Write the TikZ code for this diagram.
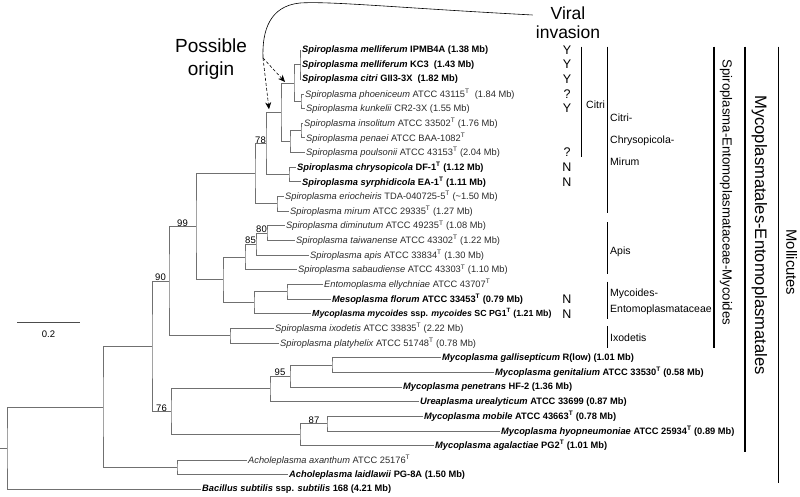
\documentclass[tikz,border=0pt]{standalone}
\usepackage{fontspec}
\setmainfont{Liberation Sans}
\usetikzlibrary{arrows.meta}
\definecolor{branchgray}{HTML}{707070}
\definecolor{labelgray}{HTML}{2A2A2A}
\newcommand{\tst}{\textsuperscript{T}}
\tikzset{
  branch/.style={draw=branchgray, line width=0.8pt},
  leaf/.style={anchor=west, inner xsep=1pt, inner ysep=0pt, font=\fontsize{9.3}{10}\selectfont, text=labelgray},
  seq/.style={leaf, font=\fontsize{9.3}{10}\selectfont\bfseries, text=black},
  boot/.style={anchor=south, inner sep=0pt, font=\fontsize{9.5}{10}\selectfont},
  yn/.style={inner sep=0pt, font=\fontsize{12.5}{13}\selectfont},
  grp/.style={anchor=west, inner sep=0pt, align=left, font=\fontsize{10.5}{22}\selectfont},
  cladebar/.style={line width=1.5pt},
  bigtext/.style={rotate=-90, inner sep=0pt},
  guessarrow/.style={line width=0.6pt, dash pattern=on 3pt off 2pt, -{Stealth[length=7pt,width=6pt]}},
}

\begin{document}
\begin{tikzpicture}[x=1pt, y=-1pt]
    \useasboundingbox (0,0) rectangle (800,497);

    % leaves
    \node[seq]  (L1)  at (301,50.00)  {\textit{Spiroplasma melliferum} IPMB4A (1.38 Mb)};
    \node[seq]  (L2)  at (301,64.65)  {\textit{Spiroplasma melliferum} KC3\ \ (1.43 Mb)};
    \node[seq]  (L3)  at (301,79.30)  {\textit{Spiroplasma citri} GII3-3X\ \ (1.82 Mb)};
    \node[leaf] (L4)  at (304,93.95)  {\textit{Spiroplasma phoeniceum} ATCC 43115\tst\ \ (1.84 Mb)};
    \node[leaf] (L5)  at (305,108.60) {\textit{Spiroplasma kunkelii} CR2-3X (1.55 Mb)};
    \node[leaf] (L6)  at (303,123.25) {\textit{Spiroplasma insolitum} ATCC 33502\tst\ (1.76 Mb)};
    \node[leaf] (L7)  at (305,137.90) {\textit{Spiroplasma penaei} ATCC BAA-1082\tst};
    \node[leaf] (L8)  at (305,152.55) {\textit{Spiroplasma poulsonii} ATCC 43153\tst\ (2.04 Mb)};
    \node[seq]  (L9)  at (296,167.20) {\textit{Spiroplasma chrysopicola} DF-1\tst\ (1.12 Mb)};
    \node[seq]  (L10) at (301,181.85) {\textit{Spiroplasma syrphidicola} EA-1\tst\ (1.11 Mb)};
    \node[leaf] (L11) at (284,196.50) {\textit{Spiroplasma eriocheiris} TDA-040725-5\tst\ (\textasciitilde1.50 Mb)};
    \node[leaf] (L12) at (289,211.15) {\textit{Spiroplasma mirum} ATCC 29335\tst\ (1.27 Mb)};
    \node[leaf] (L13) at (285,225.80) {\textit{Spiroplasma diminutum} ATCC 49235\tst\ (1.08 Mb)};
    \node[leaf] (L14) at (295,240.45) {\textit{Spiroplasma taiwanense} ATCC 43302\tst\ (1.22 Mb)};
    \node[leaf] (L15) at (309,255.10) {\textit{Spiroplasma apis} ATCC 33834\tst\ (1.30 Mb)};
    \node[leaf] (L16) at (297,269.75) {\textit{Spiroplasma sabaudiense} ATCC 43303\tst\ (1.10 Mb)};
    \node[leaf] (L17) at (323,284.40) {\textit{Entomoplasma ellychniae} ATCC 43707\tst};
    \node[seq]  (L18) at (331,299.05) {\textit{Mesoplasma florum} ATCC 33453\tst\ (0.79 Mb)};
    \node[seq, font=\fontsize{8.8}{10}\selectfont\bfseries] (L19) at (311,313.70) {\textit{Mycoplasma mycoides} ssp. \textit{mycoides} SC PG1\tst\ (1.21 Mb)};
    \node[leaf] (L20) at (274,328.35) {\textit{Spiroplasma ixodetis} ATCC 33835\tst\ (2.22 Mb)};
    \node[leaf] (L21) at (279,343.00) {\textit{Spiroplasma platyhelix} ATCC 51748\tst\ (0.78 Mb)};
    \node[seq]  (L22) at (441,357.65) {\textit{Mycoplasma gallisepticum} R(low) (1.01 Mb)};
    \node[seq]  (L23) at (494,372.30) {\textit{Mycoplasma genitalium} ATCC 33530\tst\ (0.58 Mb)};
    \node[seq]  (L24) at (402,386.95) {\textit{Mycoplasma penetrans} HF-2 (1.36 Mb)};
    \node[seq]  (L25) at (419,401.60) {\textit{Ureaplasma urealyticum} ATCC 33699 (0.87 Mb)};
    \node[seq]  (L26) at (423,416.25) {\textit{Mycoplasma mobile} ATCC 43663\tst\ (0.78 Mb)};
    \node[seq]  (L27) at (500,430.90) {\textit{Mycoplasma hyopneumoniae} ATCC 25934\tst\ (0.89 Mb)};
    \node[seq]  (L28) at (434,445.55) {\textit{Mycoplasma agalactiae} PG2\tst\ (1.01 Mb)};
    \node[leaf] (L29) at (247,460.20) {\textit{Acholeplasma axanthum} ATCC 25176\tst};
    \node[seq]  (L30) at (288,474.85) {\textit{Acholeplasma laidlawii} PG-8A (1.50 Mb)};
    \node[seq]  (L31) at (201,489.50) {\textit{Bacillus subtilis} ssp. \textit{subtilis} 168 (4.21 Mb)};

    % inner nodes of the tree
    \coordinate (nA)    at (300,64.65);
    \coordinate (nB)    at (301,101.28);
    \coordinate (nC)    at (294,82.96);
    \coordinate (nD)    at (301,130.58);
    \coordinate (nE)    at (290,141.56);
    \coordinate (nF)    at (281,112.26);
    \coordinate (nG)    at (289,174.53);
    \coordinate (nCC)   at (266,143.39);
    \coordinate (nH)    at (277,203.83);
    \coordinate (nCCM)  at (255,173.61);
    \coordinate (n80)   at (267,233.13);
    \coordinate (nI)    at (256,244.11);
    \coordinate (n85)   at (245,256.93);
    \coordinate (nJ)    at (287,291.73);
    \coordinate (nK)    at (254,302.71);
    \coordinate (nL)    at (223,279.82);
    \coordinate (n99)   at (196,226.72);
    \coordinate (nIxo)  at (230,335.68);
    \coordinate (n90)   at (169,281.20);
    \coordinate (nM)    at (332,364.98);
    \coordinate (n95)   at (290,375.96);
    \coordinate (nN)    at (270,388.78);
    \coordinate (n87)   at (327,423.58);
    \coordinate (nO)    at (300,434.56);
    \coordinate (n76)   at (171,411.67);
    \coordinate (nMoll) at (152,346.43);
    \coordinate (nAch)  at (177,467.53);
    \coordinate (nIn)   at (103,406.98);
    \coordinate (nRoot) at (7,448.24);

    % branches
    \draw[branch] (L1) -| (nA) |- (L3);
    \draw[branch] (nA) |- (L2);
    \draw[branch] (L4) -| (nB) |- (L5);
    \draw[branch] (nA) -| (nC) |- (nB);
    \draw[branch] (L6) -| (nD) |- (L7);
    \draw[branch] (nD) -| (nE) |- (L8);
    \draw[branch] (nC) -| (nF) |- (nE);
    \draw[branch] (L9) -| (nG) |- (L10);
    \draw[branch] (nF) -| (nCC) |- (nG);
    \draw[branch] (L11) -| (nH) |- (L12);
    \draw[branch] (nCC) -| (nCCM) |- (nH);
    \draw[branch] (L13) -| (n80) |- (L14);
    \draw[branch] (n80) -| (nI) |- (L15);
    \draw[branch] (nI) -| (n85) |- (L16);
    \draw[branch] (L17) -| (nJ) |- (L18);
    \draw[branch] (nJ) -| (nK) |- (L19);
    \draw[branch] (n85) -| (nL) |- (nK);
    \draw[branch] (nCCM) -| (n99) |- (nL);
    \draw[branch] (L20) -| (nIxo) |- (L21);
    \draw[branch] (n99) -| (n90) |- (nIxo);
    \draw[branch] (L22) -| (nM) |- (L23);
    \draw[branch] (nM) -| (n95) |- (L24);
    \draw[branch] (n95) -| (nN) |- (L25);
    \draw[branch] (L26) -| (n87) |- (L27);
    \draw[branch] (n87) -| (nO) |- (L28);
    \draw[branch] (nN) -| (n76) |- (nO);
    \draw[branch] (n90) -| (nMoll) |- (n76);
    \draw[branch] (L29) -| (nAch) |- (L30);
    \draw[branch] (nMoll) -| (nIn) |- (nAch);
    \draw[branch] (nIn) -| (nRoot) |- (L31);
    \draw[branch] (nRoot) -- ++(-7,0);

    % bootstrap values
    \node[boot] (b78) at (260.5,143.39) {78};
    \node[boot] (b99) at (182.5,226.72) {99};
    \node[boot] (b90) at (160.5,281.20) {90};
    \node[boot] (b85) at (250.5,244.11) {85};
    \node[boot] (b80) at (261.5,233.13) {80};
    \node[boot] (b76) at (161.5,411.67) {76};
    \node[boot] (b95) at (280,375.96) {95};
    \node[boot] (b87) at (314,423.58) {87};

    % scale bar
    \draw[line width=1.5pt, black!70] (17,322.7) -- (80,322.7);
    \node[font=\fontsize{9.5}{10}\selectfont] (sb) at (48.5,334) {0.2};

    % viral invasion column
    \node[inner sep=0pt, align=center, font=\fontsize{17.5}{19}\selectfont] (vi) at (568,23) {Viral\\invasion};
    \node[yn] (v1)  at (567,0 |- L1)  {Y};
    \node[yn] (v2)  at (567,0 |- L2)  {Y};
    \node[yn] (v3)  at (567,0 |- L3)  {Y};
    \node[yn] (v4)  at (567,0 |- L4)  {?};
    \node[yn] (v5)  at (567,0 |- L5)  {Y};
    \node[yn] (v8)  at (567,0 |- L8)  {?};
    \node[yn] (v9)  at (567,0 |- L9)  {N};
    \node[yn] (v10) at (567,0 |- L10) {N};
    \node[yn] (v18) at (567,0 |- L18) {N};
    \node[yn] (v19) at (567,0 |- L19) {N};

    % possible origin
    \node[inner sep=0pt, align=center, font=\fontsize{19}{23}\selectfont] (po) at (211,59) {Possible\\origin};
    \coordinate (split) at (263,58);
    \draw[line width=0.6pt] ([shift={(-3,-8)}]vi.west) .. controls (400,8) and (330,1) .. (300,3)
        .. controls (270,6) and (262,30) .. (split);
    \draw[guessarrow] (split) -- ([shift={(-9,-1)}]nC);
    \draw[guessarrow] (split) -- ([shift={(-12,-3)}]nF);

    % clade bars
    \draw[cladebar] (581.7,46.7) -- (581.7,156.7);
    \node[grp, font=\fontsize{10.5}{12}\selectfont] (gCitri) at (586,105) {Citri};
    \draw[cladebar] (607.3,46.7) -- (607.3,213);
    \node[grp] (gCCM) at (610,139.3) {Citri-\\Chrysopicola-\\Mirum};
    \draw[cladebar] (607.3,222) -- (607.3,274);
    \node[grp] (gApis) at (610,251.7) {Apis};
    \draw[cladebar] (607.3,281.7) -- (607.3,319.3);
    \node[grp, font=\fontsize{10.5}{16}\selectfont] (gMyc) at (610,301.3) {Mycoides-\\Entomoplasmataceae};
    \draw[cladebar] (607.3,326) -- (607.3,348.3);
    \node[grp] (gIxo) at (610,337.3) {Ixodetis};

    \draw[cladebar] (714,46.7) -- (714,348.3);
    \node[bigtext, font=\fontsize{13.2}{14}\selectfont] (tSEM) at (726,192.5) {Spiroplasma-Entomoplasmataceae-Mycoides};
    \draw[cladebar] (745,46.7) -- (745,451.7);
    \node[bigtext, font=\fontsize{16.6}{17}\selectfont] (tME) at (759.3,235) {Mycoplasmatales-Entomoplasmatales};
    \draw[cladebar] (778.3,46.7) -- (778.3,483.3);
    \node[bigtext, font=\fontsize{14.8}{15}\selectfont] (tMoll) at (791.7,262.5) {Mollicutes};
\end{tikzpicture}
\end{document}
